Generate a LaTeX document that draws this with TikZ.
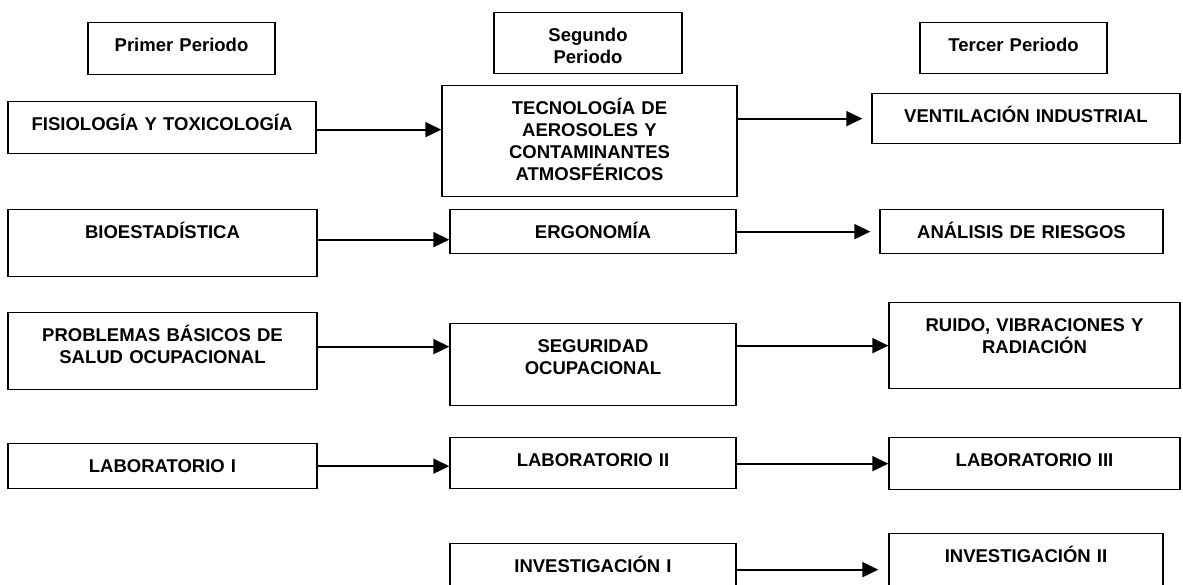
\documentclass[tikz,border=0pt]{standalone}
\usepackage{fontspec}
\setmainfont{Liberation Sans}
\usetikzlibrary{arrows.meta}

\begin{document}
\begin{tikzpicture}
  [x=0.5pt,y=-0.5pt,
   every node/.style={draw,line width=0.65pt,anchor=north,inner sep=0pt,align=center,
     text height=14.4pt,font=\bfseries\fontsize{9.25}{11}\selectfont}]

  \tikzstyle{flecha} = [-{Triangle[length=8pt,width=7.5pt]},line width=0.85pt]

  \useasboundingbox (0,0) rectangle (1183,584);
  \clip (0,0) rectangle (1183,584);

  % periodos
  \node[text width=93.5pt,text depth=11.6pt] (prim) at (181.5,22) {Primer Periodo};
  \node[text width=94pt,text depth=16.1pt] (seg) at (588,12) {Segundo\\Periodo};
  \node[text width=93.5pt,text depth=11.1pt] (ter) at (1013.5,22) {Tercer Periodo};

  % primer periodo
  \node[text width=154pt,text depth=11.6pt] (fis) at (162,101) {FISIOLOGÍA Y TOXICOLOGÍA};
  \node[text width=154.5pt,text depth=19.1pt] (bio) at (162.5,209) {BIOESTADÍSTICA};
  \node[text width=154.5pt,text depth=24.1pt] (prob) at (162.5,312) {PROBLEMAS BÁSICOS DE\\SALUD OCUPACIONAL};
  \node[text width=154.5pt,text depth=8.1pt] (laba) at (162.5,443) {LABORATORIO I};

  % segundo periodo
  \node[text width=147.5pt,text depth=41.1pt] (tec) at (589.5,85) {TECNOLOGÍA DE\\AEROSOLES Y\\CONTAMINANTES\\ATMOSFÉRICOS};
  \node[text width=143pt,text depth=7.6pt] (erg) at (593,209) {ERGONOMÍA};
  \node[text width=143pt,text depth=26.6pt] (segu) at (593,323) {SEGURIDAD\\OCUPACIONAL};
  \node[text width=143pt,text depth=11.1pt] (labb) at (593,437) {LABORATORIO II};
  \node[text width=143pt,text depth=11.6pt] (inva) at (593,543) {INVESTIGACIÓN I};

  % tercer periodo
  \node[text width=154pt,text depth=10.6pt] (vent) at (1026,93) {VENTILACIÓN INDUSTRIAL};
  \node[text width=141.5pt,text depth=7.6pt] (ana) at (1021.5,209) {ANÁLISIS DE RIESGOS};
  \node[text width=145.5pt,text depth=28.6pt] (ruido) at (1034.5,302) {RUIDO, VIBRACIONES Y\\RADIACIÓN};
  \node[text width=145.5pt,text depth=11.6pt] (labc) at (1034.5,437) {LABORATORIO III};
  \node[text width=137pt,text depth=20.6pt] (invb) at (1026,533) {INVESTIGACIÓN II};

  \draw[flecha] ([yshift=-1pt]fis.east) -- ([yshift=-1pt]fis.east -| tec.west);
  \draw[flecha] ([yshift=1.75pt]bio.east) -- ([yshift=1.75pt]bio.east -| erg.west);
  \draw[flecha] ([yshift=2.25pt]prob.east) -- ([yshift=2.25pt]prob.east -| segu.west);
  \draw[flecha] (laba.east) -- (laba.east -| labb.west);

  \draw[flecha,shorten >=4.5pt] (tec.east |- vent.west) -- (vent.west);
  \draw[flecha,shorten >=4.5pt] (erg.east) -- (erg.east -| ana.west);
  \draw[flecha] (segu.east |- ruido.west) -- (ruido.west);
  \draw[flecha] (labb.east |- labc.west) -- (labc.west);
  \draw[flecha,shorten >=5pt] (inva.east) -- (inva.east -| invb.west);
\end{tikzpicture}
\end{document}
